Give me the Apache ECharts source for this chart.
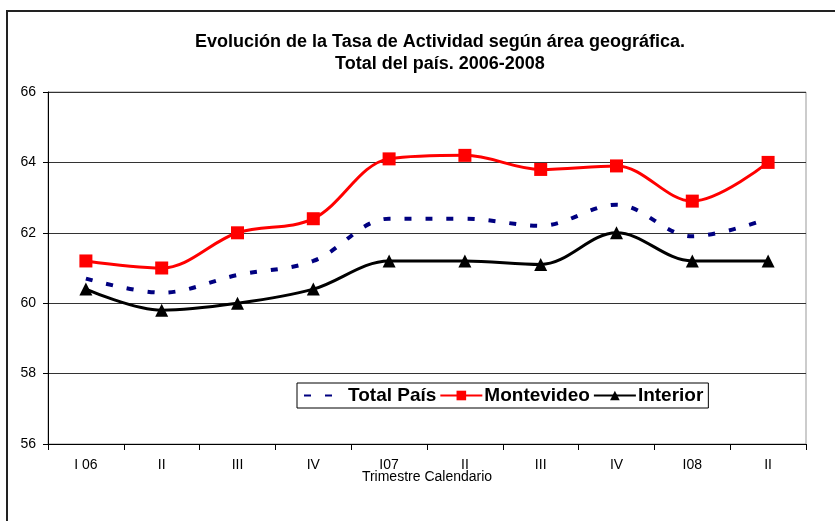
<!DOCTYPE html>
<html>
<head>
<meta charset="utf-8">
<script src="https://cdn.jsdelivr.net/npm/echarts@6/dist/echarts.min.js"></script>
<style>
  html, body { margin: 0; padding: 0; background: #fff; }
  #chart { width: 835px; height: 521px; }
</style>
</head>
<body>
<div id="chart"></div>
<script>
    var categories = ["I 06", "II", "III", "IV", "I07", "II", "III", "IV", "I08", "II"];
    var totalPais = [60.7, 60.3, 60.8, 61.2, 62.4, 62.4, 62.2, 62.8, 61.9, 62.4];
    var montevideo = [61.2, 61.0, 62.0, 62.4, 64.1, 64.2, 63.8, 63.9, 62.9, 64.0];
    var interior = [60.4, 59.8, 60.0, 60.4, 61.2, 61.2, 61.1, 62.0, 61.2, 61.2];

    var font = "Liberation Sans, Arial, sans-serif";
    var myChart = echarts.init(document.getElementById("chart"));

    var option = {
        backgroundColor: "#fff",
        animation: false,
        // marco exterior del gráfico
        graphic: [{
            type: "rect",
            shape: {x: 7, y: 11, width: 900, height: 600},
            style: {fill: "none", stroke: "#222", lineWidth: 2},
            silent: true
        }],
        title: {
            text: "Evolución de la Tasa de Actividad según área geográfica.\nTotal del país. 2006-2008",
            left: 435,
            top: 26,
            textAlign: "center",
            textStyle: {fontFamily: font, fontSize: 18, fontWeight: "bold", color: "#000", lineHeight: 22}
        },
        legend: {
            left: 297,
            top: 383,
            padding: [3, 5, 3, 6],
            borderColor: "#000",
            borderWidth: 1,
            itemWidth: 42,
            itemHeight: 12,
            itemGap: 3,
            textStyle: {fontFamily: font, fontSize: 19, fontWeight: "bold", color: "#000", padding: [0, 0, 0, -3]},
            data: [
                {name: "Total País", itemStyle: {opacity: 0}},
                "Montevideo",
                "Interior"
            ]
        },
        grid: {left: 48, right: 29, top: 92, bottom: 77, show: true, borderColor: "#999", borderWidth: 1},
        xAxis: {
            type: "category",
            data: categories,
            boundaryGap: true,
            name: "Trimestre Calendario",
            nameLocation: "middle",
            nameGap: 26,
            nameMoveOverlap: false,
            nameTextStyle: {fontFamily: font, fontSize: 14, color: "#000"},
            axisLine: {lineStyle: {color: "#000", width: 1}},
            axisTick: {show: true, length: 6, lineStyle: {color: "#000"}},
            axisLabel: {fontFamily: font, fontSize: 14, color: "#000", margin: 14}
        },
        yAxis: {
            type: "value",
            min: 56,
            max: 66,
            interval: 2,
            axisLine: {show: true, lineStyle: {color: "#000", width: 1}},
            axisTick: {show: true, length: 5, lineStyle: {color: "#000"}},
            axisLabel: {fontFamily: font, fontSize: 14, color: "#000", margin: 12},
            splitLine: {show: true, lineStyle: {color: "#333", width: 1}}
        },
        series: [{
            name: "Total País",
            type: "line",
            data: totalPais,
            smooth: 0.35,
            symbol: "none",
            color: "#000080",
            lineStyle: {color: "#000080", width: 4, type: [7, 14]},
            z: 2
        }, {
            name: "Montevideo",
            type: "line",
            data: montevideo,
            smooth: 0.35,
            symbol: "rect",
            symbolSize: 13,
            color: "#ff0000",
            itemStyle: {color: "#ff0000"},
            lineStyle: {color: "#ff0000", width: 3},
            z: 3
        }, {
            name: "Interior",
            type: "line",
            data: interior,
            smooth: 0.35,
            symbol: "triangle",
            symbolSize: 13,
            color: "#000",
            itemStyle: {color: "#000"},
            lineStyle: {color: "#000", width: 3},
            z: 3
        }]
    };
    myChart.setOption(option);
</script>
</body>
</html>
